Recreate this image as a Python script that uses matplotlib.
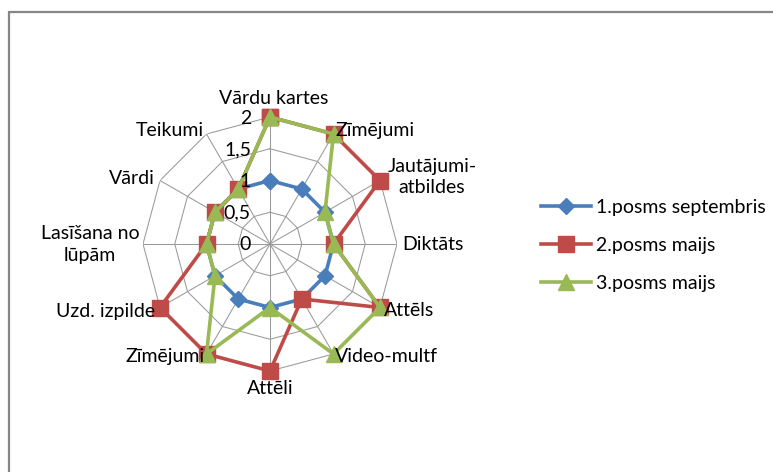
import numpy as np
import matplotlib
matplotlib.use("Agg")
import matplotlib.pyplot as plt
from matplotlib.patches import Rectangle
import matplotlib.transforms as mtransforms

plt.rcParams['font.family'] = ['Lato', 'DejaVu Sans']

categories = ["Vārdu kartes", "Zīmējumi", "Jautājumi-\natbildes", "Diktāts", "Attēls",
              "Video-multf", "Attēli", "Zīmējumi", "Uzd. izpilde", "Lasīšana no\nlūpām",
              "Vārdi", "Teikumi"]
series_names = ["1.posms septembris", "2.posms maijs", "3.posms maijs"]
posms1 = [1, 1, 1, 1, 1, 1, 1, 1, 1, 1, 1, 1]
posms2 = [2, 2, 2, 1, 2, 1, 2, 2, 2, 1, 1, 1]
posms3 = [2, 2, 1, 1, 2, 2, 1, 2, 1, 1, 1, 1]
r_ticks = [0, 0.5, 1, 1.5, 2]
r_tick_labels = ["0", "0,5", "1", "1,5", "2"]

colors = ["#4A7EBB", "#BE4B48", "#98B954"]
markers = ["D", "s", "^"]
msizes = [8.5, 11.5, 12]
grid_color = "#9A9A9A"
FS = 14

W, H, DPI = 773, 472, 100
fig = plt.figure(figsize=(W / DPI, H / DPI), dpi=DPI)

cx, cy, R = 270, 244, 127
ax = fig.add_axes([(cx - R) / W, (H - cy - R) / H, 2 * R / W, 2 * R / H], projection="polar")
ax.set_theta_zero_location("N")
ax.set_theta_direction(-1)
ax.set_ylim(0, 2)
ax.grid(False)
ax.spines["polar"].set_visible(False)
ax.set_xticks([])
ax.set_yticks([])
ax.patch.set_alpha(0)

n = len(categories)
theta = np.arange(n) * 2 * np.pi / n
theta_closed = np.append(theta, theta[0])

# polygonal grid rings and spokes
for r in r_ticks[1:]:
    ax.plot(theta_closed, [r] * (n + 1), color=grid_color, lw=0.75, zorder=1)
for t in theta:
    ax.plot([t, t], [0, 2], color=grid_color, lw=0.75, zorder=1)


def px_offset(dx, dy):
    return mtransforms.ScaledTranslation(dx / DPI, dy / DPI, fig.dpi_scale_trans)


# radial tick labels in a column left of the vertical axis
for r, lab in zip(r_ticks, r_tick_labels):
    ax.text(0, r, lab, transform=ax.transData + px_offset(-19, -1), ha="right",
            va="center", fontsize=FS, color="black", zorder=5)

handles = []
for vals, c, m, ms, name in zip([posms1, posms2, posms3], colors, markers, msizes, series_names):
    v = np.append(vals, vals[0])
    ln, = ax.plot(theta_closed, v, color=c, lw=2.6, marker=m, markersize=ms,
                  markerfacecolor=c, markeredgecolor=c, label=name, zorder=3,
                  clip_on=False)
    handles.append(ln)

# category labels around the outer ring: pixel offset from the outer vertex
label_pos = [
    (4, 19, "center"),
    (1.5, 4, "left"),
    (52, 3.5, "center"),
    (5, 0, "left"),
    (4, -3, "left"),
    (1.5, -3, "left"),
    (0, -18, "center"),
    (-1.5, -3, "right"),
    (-5, -3.5, "right"),
    (-53, -0.5, "center"),
    (-5, 2.5, "right"),
    (-2.5, 4, "right"),
]
for t, lab, (dx, dy, ha) in zip(theta, categories, label_pos):
    ax.text(t, 2, lab, transform=ax.transData + px_offset(dx, dy), ha=ha, va="center",
            fontsize=FS, color="black", linespacing=1.3, zorder=6, clip_on=False)

leg = fig.legend(handles=handles, loc="center left", bbox_to_anchor=(533 / W, 1 - 245 / H),
                 frameon=False, fontsize=FS, handlelength=2.6, handletextpad=0.25,
                 labelspacing=1.08, borderaxespad=0)

# chart area border
fig.patches.append(Rectangle((8.5 / W, -0.1), 1.2, (H - 11.5) / H + 0.1,
                             transform=fig.transFigure, fill=False,
                             edgecolor="#868686", lw=1.6))

fig.savefig("out.png", dpi=DPI)
